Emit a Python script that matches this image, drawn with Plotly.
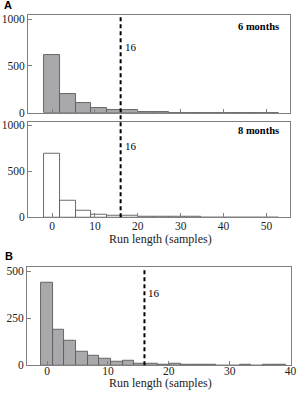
import plotly.graph_objects as go

# ---------------- data ----------------
binA_start = -1.82
binA_width = 3.65
counts_6m = [615, 200, 100, 47, 33, 29, 10, 3, 1, 2, 0, 0, 0, 0, 0]
counts_8m = [688, 175, 75, 33, 17, 18, 6, 3, 2, 2, 1, 1, 1, 0, 0]

binB_start = -1.0
binB_width = 1.92
counts_B = [440, 190, 130, 73, 52, 34, 19, 23, 10, 10, 5, 8, 4, 4, 4, 0, 0, 4, 0, 1, 1]

threshold = 16
ticksA_x = [0, 10, 20, 30, 40, 50]
ticksA_y = [0, 500, 1000]
ticksB_x = [0, 10, 20, 30, 40]
ticksB_y = [0, 250, 500]
labelA_top = "6 months"
labelA_mid = "8 months"
xtitle = "Run length (samples)"

# ---------------- figure ----------------
W, H = 298, 397
def px(x):
    return x / W
def py(y):
    return 1 - y / H

centersA = [binA_start + binA_width * (i + 0.5) for i in range(len(counts_6m))]
centersB = [binB_start + binB_width * (i + 0.5) for i in range(len(counts_B))]

GRAY_FILL = "#a9a9ab"
EDGE = "#5a5a5a"
FRAME = "#808080"
SERIF = "Liberation Serif"

fig = go.Figure()
fig.add_trace(go.Bar(x=centersA, y=counts_6m, width=binA_width, xaxis="x", yaxis="y",
                     marker=dict(color=GRAY_FILL, line=dict(color=EDGE, width=0.9)), showlegend=False))
fig.add_trace(go.Bar(x=centersA, y=counts_8m, width=binA_width, xaxis="x2", yaxis="y2",
                     marker=dict(color="white", line=dict(color=EDGE, width=0.9)), showlegend=False))
fig.add_trace(go.Bar(x=centersB, y=counts_B, width=binB_width, xaxis="x3", yaxis="y3",
                     marker=dict(color=GRAY_FILL, line=dict(color=EDGE, width=0.9)), showlegend=False))

tickfont = dict(family=SERIF, size=11.5, color="#222")
axis_common = dict(showgrid=False, zeroline=False, showline=True, mirror=True,
                   linecolor=FRAME, linewidth=1, ticks="inside", ticklen=4,
                   tickcolor=FRAME, tickfont=tickfont, automargin=False)

domA_x = [px(28), px(290)]
domB_x = [px(27), px(290.5)]

fig.update_layout(
    template="none",
    width=W, height=H, margin=dict(l=0, r=0, t=0, b=0, pad=0),
    paper_bgcolor="white", plot_bgcolor="white", bargap=0,
    font=dict(family=SERIF, color="#222"),
    xaxis=dict(domain=domA_x, range=[-5.6, 55.5], tickvals=ticksA_x, showticklabels=False,
               anchor="y", **axis_common),
    yaxis=dict(domain=[py(112.7), py(15)], range=[0, 1043], tickvals=ticksA_y,
               anchor="x", **axis_common),
    xaxis2=dict(domain=domA_x, range=[-5.6, 55.5], tickvals=ticksA_x, anchor="y2",
                ticklabelstandoff=-2, **axis_common),
    yaxis2=dict(domain=[py(217.3), py(121.7)], range=[0, 1036], tickvals=ticksA_y,
                anchor="x2", **axis_common),
    xaxis3=dict(domain=domB_x, range=[-3.3, 40], tickvals=ticksB_x, anchor="y3",
                ticklabelstandoff=-5, **axis_common),
    yaxis3=dict(domain=[py(365.3), py(266.7)], range=[0, 525], tickvals=ticksB_y,
                anchor="x3", **axis_common),
)

dash = dict(color="black", width=2, dash="4px,3px")
fig.add_shape(type="line", xref="x", yref="paper", x0=threshold, x1=threshold,
              y0=py(217.3), y1=py(15.5), line=dash)
fig.add_shape(type="line", xref="x3", yref="paper", x0=threshold, x1=threshold,
              y0=py(365.3), y1=py(267.5), line=dash)

ann = []
ann.append(dict(text="<b>A</b>", x=px(1.5), y=py(5.5), xref="paper", yref="paper",
                xanchor="left", yanchor="middle", showarrow=False,
                font=dict(family="Liberation Sans", size=11, color="black")))
ann.append(dict(text="<b>B</b>", x=px(3), y=py(256), xref="paper", yref="paper",
                xanchor="left", yanchor="middle", showarrow=False,
                font=dict(family="Liberation Sans", size=11, color="black")))
ann.append(dict(text="<b>%s</b>" % labelA_top, x=px(281), y=py(26), xref="paper", yref="paper",
                xanchor="right", yanchor="middle", showarrow=False,
                font=dict(family=SERIF, size=10.5, color="black")))
ann.append(dict(text="<b>%s</b>" % labelA_mid, x=px(281), y=py(130), xref="paper", yref="paper",
                xanchor="right", yanchor="middle", showarrow=False,
                font=dict(family=SERIF, size=10.5, color="black")))
for xr, yy in [("x", 47.3), ("x", 146), ("x3", 293)]:
    ann.append(dict(text=str(threshold), x=threshold, y=py(yy), xref=xr, yref="paper",
                    xanchor="center", yanchor="middle", xshift=10, showarrow=False,
                    font=dict(family=SERIF, size=11, color="black")))
ann.append(dict(text=xtitle, x=px(160), y=py(239), xref="paper", yref="paper",
                xanchor="center", yanchor="middle", showarrow=False,
                font=dict(family=SERIF, size=12, color="#222")))
ann.append(dict(text=xtitle, x=px(160), y=py(383), xref="paper", yref="paper",
                xanchor="center", yanchor="middle", showarrow=False,
                font=dict(family=SERIF, size=12, color="#222")))
fig.update_layout(annotations=ann)

fig.write_html("out.html", config={"displayModeBar": False},
               post_script="document.body.style.margin='0';")
